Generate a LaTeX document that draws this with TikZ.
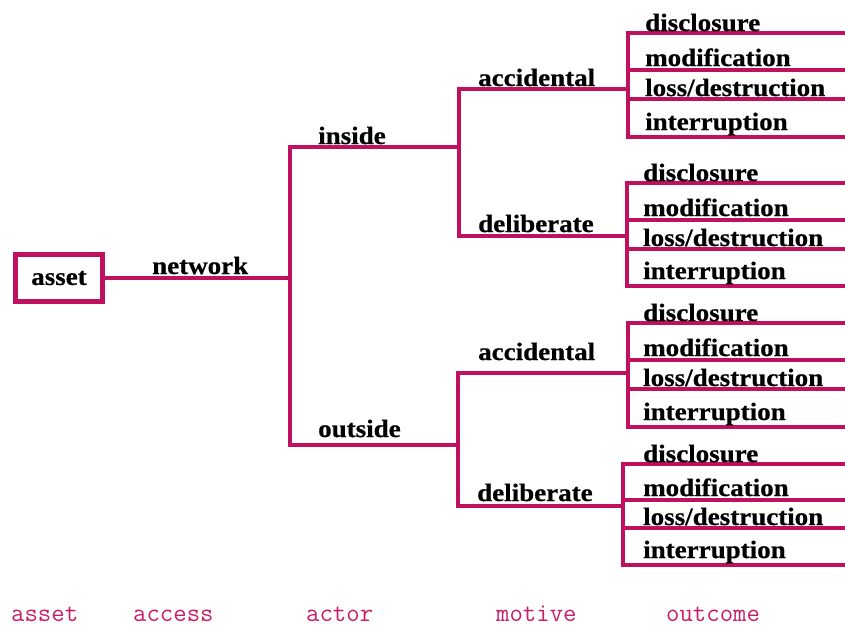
\documentclass[tikz,border=0pt]{standalone}
\usepackage{fontspec}
\newfontfamily\labfont[FakeStretch=1.08,FakeBold=0.6]{Liberation Serif}
\definecolor{mag}{RGB}{192,16,96}
\definecolor{capmag}{RGB}{200,30,105}
\begin{document}
\begin{tikzpicture}[x=1pt,y=-1pt,
  conn/.style={draw=mag, line width=3.6pt, line join=miter},
  lab/.style={font=\labfont\bfseries\fontsize{25}{25}\selectfont, anchor=base west, inner sep=0pt, text=black},
  capt/.style={font=\ttfamily\fontsize{26}{26}\selectfont, text=capmag, anchor=base west, inner sep=0pt},
  assetbox/.style={draw=mag, line width=4.5pt, minimum width=87pt, minimum height=47pt, inner sep=0pt}]
\useasboundingbox (0,0) rectangle (845,630);
\fill[white] (0,0) rectangle (845,630);

% asset
\node[assetbox, font=\labfont\bfseries\fontsize{25}{25}\selectfont] (asset) at (59,278) {asset};

% actor bracket
\coordinate (actM) at (290,278);
\coordinate (actT) at (290,147);
\coordinate (actB) at (290,445);
\coordinate (inJ) at (459,147);
\coordinate (outJ) at (458,445);
\draw[conn] (asset.east) -- (actM);
\draw[conn] (inJ) -- (actT) -- (actB) -- (outJ);
\node[lab] (network) at (152,274) {network};
\node[lab] (inside) at (318,144) {inside};
\node[lab] (outside) at (318,437) {outside};

% motive brackets
\coordinate (m1T) at (459,89);  \coordinate (m1B) at (459,236);
\coordinate (m1a) at (628,89);  \coordinate (m1d) at (628,236);
\draw[conn] (m1a) -- (m1T) -- (m1B) -- (m1d);
\coordinate (m2T) at (458,373); \coordinate (m2B) at (458,506);
\coordinate (m2a) at (628,373); \coordinate (m2d) at (623,506);
\draw[conn] (m2a) -- (m2T) -- (m2B) -- (m2d);
\node[lab] (acc1) at (478,86) {accidental};
\node[lab] (del1) at (478,232) {deliberate};
\node[lab] (acc2) at (478,360) {accidental};
\node[lab] (del2) at (477,501) {deliberate};

% outcome groups: bracket x, four line ys, label x
\foreach \g/\bx/\ya/\yb/\yc/\yd/\lx in {1/628/33/70/99/137/645, 2/627/183/220/249/286/643, 3/628/323/360/389/427/643, 4/623/464/500/528/565/643}{
  \coordinate (o\g a) at (\bx,\ya); \coordinate (o\g b) at (\bx,\yb);
  \coordinate (o\g c) at (\bx,\yc); \coordinate (o\g d) at (\bx,\yd);
  \coordinate (e\g a) at (847,\ya); \coordinate (e\g b) at (847,\yb);
  \coordinate (e\g c) at (847,\yc); \coordinate (e\g d) at (847,\yd);
  \draw[conn] (e\g a) -- (o\g a) -- (o\g d) -- (e\g d);
  \draw[conn] (o\g b) -- (e\g b);
  \draw[conn] (o\g c) -- (e\g c);
  \node[lab] (dis\g) at (\lx,\ya-2) {disclosure};
  \node[lab] (mod\g) at (\lx,\yb-4) {modification};
  \node[lab] (los\g) at (\lx,\yc-3) {loss/destruction};
  \node[lab] (int\g) at (\lx,\yd-7) {interruption};
}

% captions
\node[capt] (cAsset) at (11,621) {asset};
\node[capt] (cAccess) at (133,621) {access};
\node[capt] (cActor) at (306,621) {actor};
\node[capt] (cMotive) at (496,621) {motive};
\node[capt] (cOutcome) at (666,621) {outcome};
\end{tikzpicture}
\end{document}
